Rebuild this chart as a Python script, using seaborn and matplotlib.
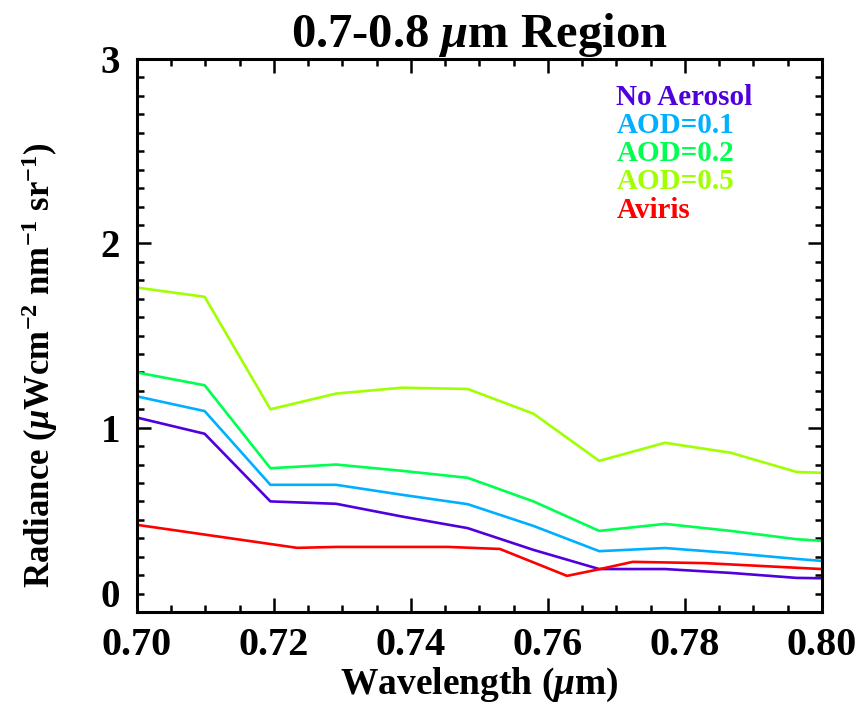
import numpy as np
import pandas as pd
import matplotlib
matplotlib.use('Agg')
import matplotlib.pyplot as plt
from matplotlib.ticker import MultipleLocator, FuncFormatter
import seaborn as sns

# model wavelengths (um) and radiances
wl_model = [0.700, 0.7099, 0.7195, 0.7291, 0.7387, 0.7483, 0.7579,
            0.7675, 0.7771, 0.7867, 0.7963, 0.800]
no_aerosol = [1.055, 0.967, 0.600, 0.587, 0.518, 0.455, 0.337,
              0.233, 0.233, 0.212, 0.185, 0.183]
aod_01 = [1.170, 1.090, 0.690, 0.690, 0.636, 0.585, 0.467,
          0.330, 0.347, 0.320, 0.288, 0.277]
aod_02 = [1.300, 1.230, 0.780, 0.800, 0.766, 0.728, 0.600,
          0.440, 0.478, 0.440, 0.395, 0.386]
aod_05 = [1.760, 1.710, 1.100, 1.185, 1.217, 1.210, 1.076,
          0.820, 0.918, 0.864, 0.760, 0.755]

wl_aviris = [0.700, 0.7234, 0.7291, 0.7455, 0.7530, 0.7628, 0.7670,
             0.7724, 0.7830, 0.7963, 0.800]
aviris = [0.473, 0.348, 0.353, 0.353, 0.342, 0.196, 0.228,
          0.272, 0.265, 0.240, 0.233]

labels = ['No Aerosol', 'AOD=0.1', 'AOD=0.2', 'AOD=0.5', 'Aviris']
colors = ['#5000DC', '#00B0FF', '#00FF50', '#A0FF00', '#FF0000']

sns.set_style('ticks')
plt.rcParams['font.family'] = ['Liberation Serif', 'DejaVu Serif']
plt.rcParams['font.weight'] = 'bold'
plt.rcParams['mathtext.fontset'] = 'custom'
plt.rcParams['mathtext.rm'] = 'Liberation Serif:bold'
plt.rcParams['mathtext.it'] = 'Liberation Serif:italic:bold'
for key in ['text.color', 'axes.labelcolor', 'xtick.color', 'ytick.color']:
    plt.rcParams[key] = 'black'

fig = plt.figure(figsize=(8.66, 7.08), dpi=100)
ax = fig.add_axes([0.158, 0.1356, 0.791, 0.781])

series = [no_aerosol, aod_01, aod_02, aod_05]
for i, vals in enumerate(series):
    df = pd.DataFrame({'wl': wl_model, 'rad': vals})
    sns.lineplot(data=df, x='wl', y='rad', ax=ax, color=colors[i],
                 linewidth=1.9, estimator=None, sort=False)
df = pd.DataFrame({'wl': wl_aviris, 'rad': aviris})
sns.lineplot(data=df, x='wl', y='rad', ax=ax, color=colors[4],
             linewidth=1.9, estimator=None, sort=False)

ax.set_xlim(0.70, 0.80)
ax.set_ylim(0, 3)
ax.xaxis.set_major_locator(MultipleLocator(0.02))
ax.xaxis.set_minor_locator(MultipleLocator(0.005))
ax.yaxis.set_major_locator(MultipleLocator(1))
ax.yaxis.set_minor_locator(MultipleLocator(0.1))
ax.xaxis.set_major_formatter(matplotlib.ticker.FormatStrFormatter('%.2f'))
# the "0" is drawn separately, sitting just above the bottom axis
ax.yaxis.set_major_formatter(
    FuncFormatter(lambda v, p: '' if abs(v) < 1e-9 else '%d' % v))
ax.tick_params(which='both', direction='in', top=True, right=True,
               width=1.8)
ax.tick_params(axis='x', which='both', pad=11, labelsize=29)
ax.tick_params(axis='y', which='both', pad=12, labelsize=28)
ax.tick_params(which='major', length=10)
ax.tick_params(which='minor', length=5)
for sp in ax.spines.values():
    sp.set_linewidth(2.2)
    sp.set_color('black')
ax.text(-0.024, -0.02, '0', transform=ax.get_yaxis_transform(), ha='right',
        va='bottom', fontsize=28, fontweight='bold', color='black')

ax.set_xlabel(r'Wavelength ($\mu$m)', fontsize=27, fontweight='bold',
              labelpad=1)
ax.set_ylabel(r'Radiance ($\mu$Wcm$^{-2}$ nm$^{-1}$ sr$^{-1}$)',
              fontsize=25, fontweight='bold')
ax.yaxis.set_label_coords(-0.112, 0.447)
ax.set_title(r'0.7-0.8 $\mu$m Region', fontsize=35, fontweight='bold',
             pad=8)

for i, lab in enumerate(labels):
    ax.text(0.70, 0.931 - i * 0.051, lab, transform=ax.transAxes,
            color=colors[i], fontsize=21, fontweight='bold', va='center')

fig.savefig('out.png', dpi=100)
